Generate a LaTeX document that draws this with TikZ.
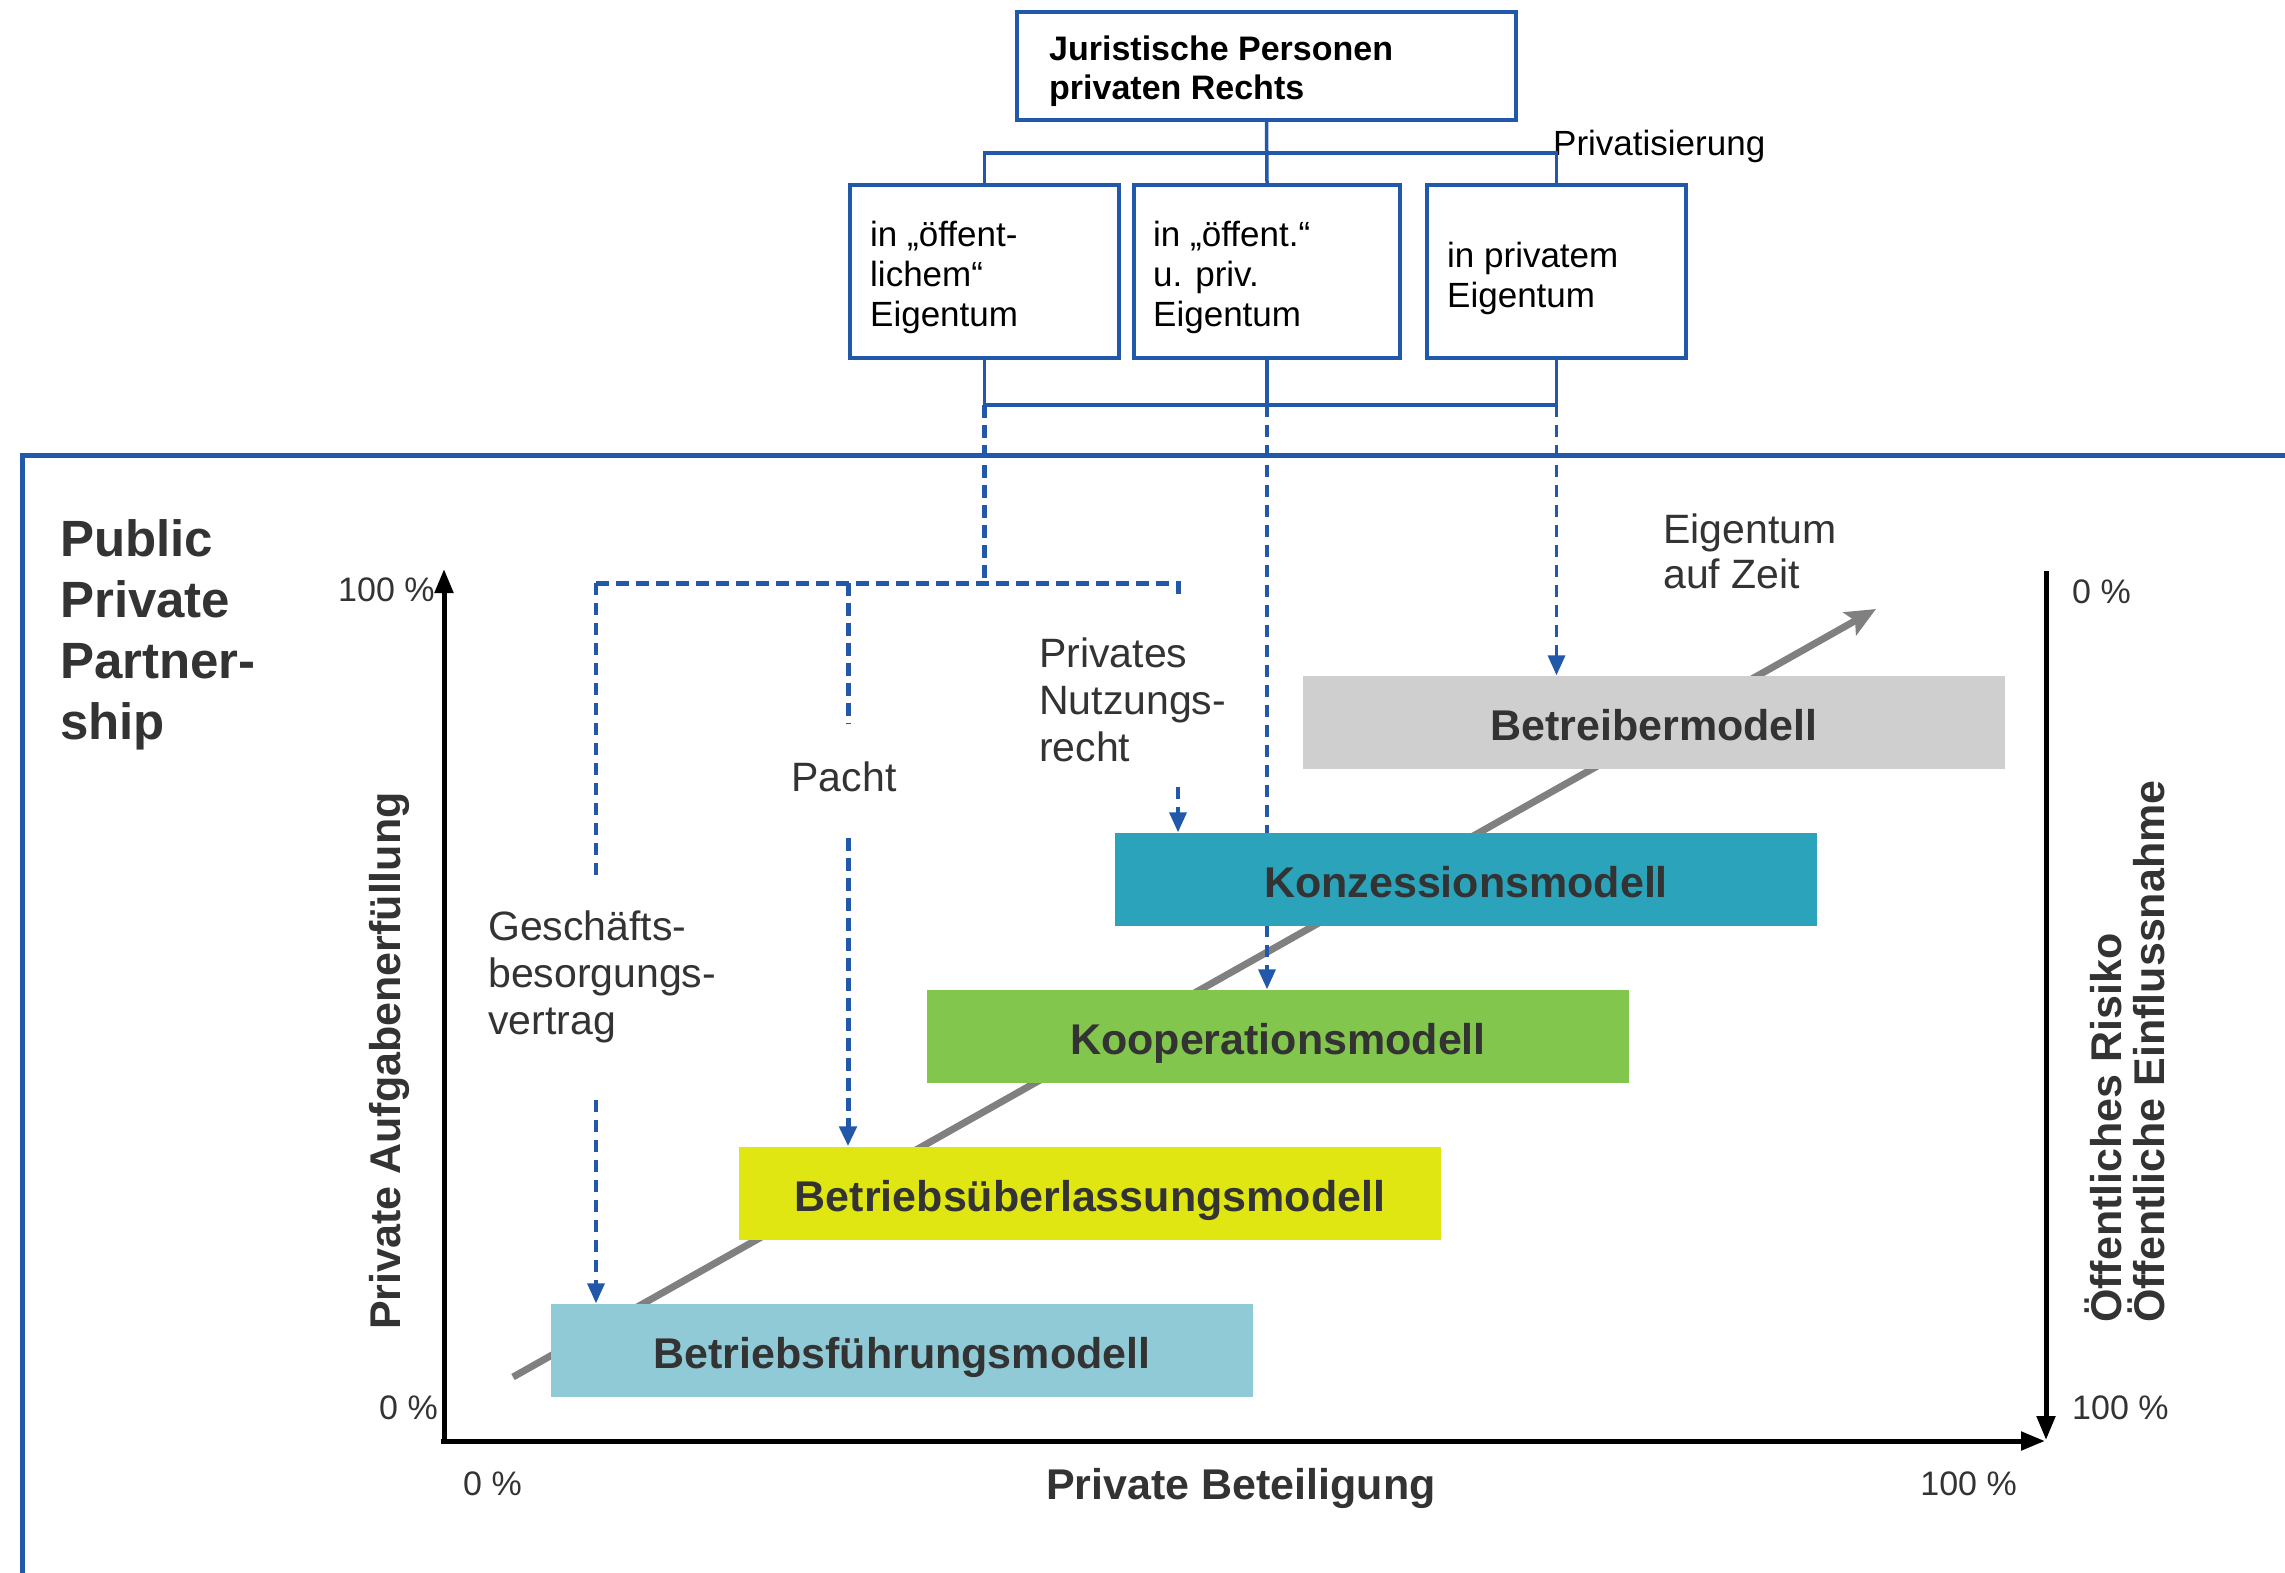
\documentclass[tikz,border=0pt]{standalone}
\usepackage{fontspec}
\setmainfont{Liberation Sans}
\usetikzlibrary{arrows.meta}
\pgfdeclarelayer{bg}
\pgfsetlayers{bg,main}
\definecolor{pblue}{RGB}{33,88,170}
\definecolor{txtgray}{RGB}{51,51,51}
\definecolor{arrgray}{RGB}{128,128,128}
\definecolor{cbetr}{RGB}{207,207,207}
\definecolor{ckonz}{RGB}{43,163,187}
\definecolor{ckoop}{RGB}{130,198,77}
\definecolor{cbueb}{RGB}{224,230,18}
\definecolor{cbfm}{RGB}{144,202,214}
\newcommand\myfs[2]{\fontsize{#1}{#2}\selectfont}
\begin{document}
\begin{tikzpicture}[x=1pt,y=-1pt,
  treebox/.style={draw=pblue,line width=3.5pt,fill=white,inner sep=0pt,minimum height=173pt},
  treetext/.style={anchor=north west,inner sep=0pt,align=left,text=black,font=\myfs{35}{40}},
  model/.style={minimum width=702pt,minimum height=93pt,inner sep=0pt,text=txtgray,text height=37pt,text depth=0pt,font=\bfseries\myfs{43}{48}},
  solidblue/.style={draw=pblue,line width=3.5pt},
  dashthick/.style={draw=pblue,line width=5pt,dash pattern=on 13pt off 7pt},
  dashthin/.style={draw=pblue,line width=3.5pt,dash pattern=on 12pt off 8pt},
  bluetip/.style={-{Triangle[length=20pt,width=17pt]}},
  axis/.style={draw=black,line width=5pt,-{Triangle[length=24pt,width=18pt]}},
  lbl/.style={text=txtgray,inner sep=0pt,align=left,font=\myfs{41}{47}},
  pct/.style={text=txtgray,inner sep=0pt,font=\myfs{34}{38}},
  axlbl/.style={rotate=90,inner sep=0pt,text=txtgray,font=\bfseries\myfs{43}{47}},
]
\useasboundingbox (0,0) rectangle (2285,1572);

% frame
\coordinate (fbl) at (22,1590);
\coordinate (ftl) at (22,455);
\coordinate (ftr) at (2300,455);
\draw[draw=pblue,line width=5pt] (fbl) -- (ftl) -- (ftr);

% tree
\node[draw=pblue,line width=3.5pt,fill=white,minimum width=499pt,minimum height=108pt,inner sep=0pt] (top) at (1266.5,66) {};
\node[anchor=north west,inner sep=0pt,align=left,text=black,font=\bfseries\myfs{34}{39}] (toptext) at (1049,36) {Juristische Personen\\privaten Rechts};
\node[treebox,minimum width=269pt] (b1) at (984.5,271.5) {};
\node[treebox,minimum width=266pt] (b2) at (1267,271.5) {};
\node[treebox,minimum width=259pt] (b3) at (1556.5,271.5) {};
\node[treetext] (b1t) at (870,221) {in „öffent-\\lichem“\\Eigentum};
\node[treetext] (b2t) at (1153,221) {in „öffent.“\\u. priv.\\Eigentum};
\node[treetext] (b3t) at (1447,242) {in privatem\\Eigentum};
\node[anchor=base west,inner sep=0pt,font=\myfs{35}{40}] (priv) at (1553,155) {Privatisierung};

\coordinate (hl) at (984.5,153);
\coordinate (hr) at (1556.5,153);
\draw[solidblue] (b1.north) -- (hl) -- (hr) -- (b3.north);
\draw[solidblue] (top.south) -- (b2.north);
\coordinate (ll) at (984.5,405);
\coordinate (lm) at (1267,405);
\coordinate (lr) at (1556.5,405);
\draw[solidblue] (b1.south) -- (ll) -- (lr) -- (b3.south);
\draw[solidblue] (b2.south) -- (lm);

% model boxes
\node[model,fill=cbetr] (betr) at (1654,722) {Betreibermodell};
\node[model,fill=ckonz] (konz) at (1466,879) {Konzessionsmodell};
\node[model,fill=ckoop] (koop) at (1278,1036) {Kooperationsmodell};
\node[model,fill=cbueb] (bueb) at (1090,1193) {Betriebsüberlassungsmodell};
\node[model,fill=cbfm] (bfm) at (902,1350) {Betriebsführungsmodell};

% texts
\node[anchor=north west,inner sep=0pt,align=left,text=txtgray,font=\bfseries\myfs{51}{61}] (ppp) at (60,519) {Public\\Private\\Partner-\\ship};
\node[lbl,anchor=north west,font=\myfs{41}{45}] (eaz) at (1663,514) {Eigentum\\auf Zeit};
\node[lbl,anchor=north west] (pnr) at (1039,638) {Privates\\Nutzungs-\\recht};
\node[lbl,anchor=base] (pacht) at (844,791) {Pacht};
\node[lbl,anchor=north west] (gbv) at (488,911) {Geschäfts-\\besorgungs-\\vertrag};

% background lines
\begin{pgfonlayer}{bg}
\coordinate (da0) at (513,1377);
\coordinate (da1) at (1876,609);
\draw[arrgray,line width=7pt,-{Stealth[length=30pt,width=26pt,inset=6pt]}] (da0) -- (da1);

\coordinate (dj) at (984.5,583);
\coordinate (dl) at (596,583);
\coordinate (dp) at (848,583);
\coordinate (dr) at (1178,583);
\coordinate (drt) at (1178,596);
\draw[dashthick] (ll) -- (dj);
\draw[dashthick] (dl) -- (dr) -- (drt);
\coordinate (gsa) at (596,875);
\coordinate (gsb) at (596,1100);
\draw[dashthin] (dl) -- (gsa);
\draw[dashthin,bluetip] (gsb) -- (gsb |- bfm.north);
\coordinate (pa) at (848,724);
\coordinate (pb) at (848,838);
\draw[dashthick] (dp) -- (pa);
\draw[dashthick,bluetip] (pb) -- (pb |- bueb.north);
\coordinate (na) at (1178,787);
\draw[dashthin,bluetip] (na) -- (na |- konz.north);
\draw[dashthin,bluetip] (lm) -- (lm |- koop.north);
\draw[dashthin,bluetip] (lr) -- (lr |- betr.north);
\end{pgfonlayer}

% axes
\coordinate (oy) at (444,1444);
\coordinate (ox) at (441,1441);
\coordinate (ytop) at (444,569);
\coordinate (xend) at (2045,1441);
\coordinate (rtop) at (2046,571);
\coordinate (rbot) at (2046,1440);
\draw[axis] (oy) -- (ytop);
\draw[axis] (ox) -- (xend);
\draw[axis] (rtop) -- (rbot);

\node[pct,anchor=base west] (y100) at (338,601) {100 \%};
\node[pct,anchor=base east] (y0) at (438,1419) {0 \%};
\node[pct,anchor=base west] (r0) at (2072,603) {0 \%};
\node[pct,anchor=base west] (r100) at (2072,1419) {100 \%};
\node[pct,anchor=base west] (x0) at (463,1495) {0 \%};
\node[pct,anchor=base east] (x100) at (2017,1495) {100 \%};
\node[inner sep=0pt,anchor=base,text=txtgray,font=\bfseries\myfs{43}{47}] (xl) at (1241,1499) {Private Beteiligung};
\node[axlbl,anchor=base] (yl) at (400,1061) {Private Aufgabenerfüllung};
\node[axlbl,anchor=base west] (rl1) at (2121,1323) {Öffentliches Risiko};
\node[axlbl,anchor=base west] (rl2) at (2164,1323) {Öffentliche Einflussnahme};
\end{tikzpicture}
\end{document}
